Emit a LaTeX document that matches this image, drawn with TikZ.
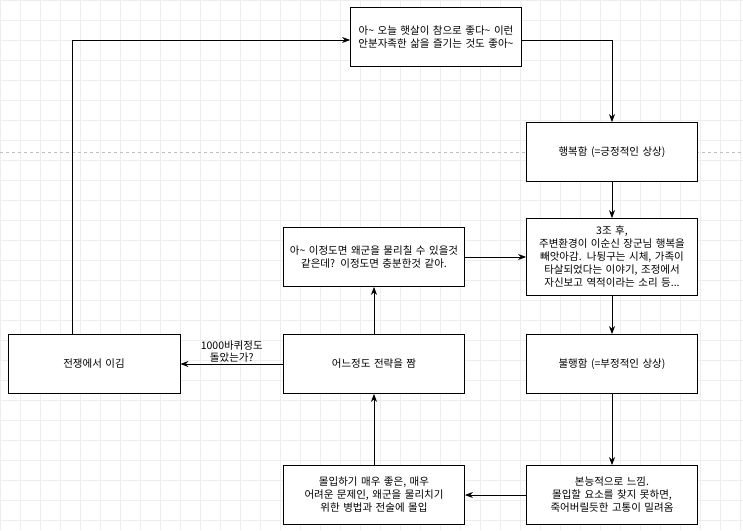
\documentclass[tikz,border=0pt]{standalone}
\usepackage{fontspec}
\setmainfont{Noto Sans CJK KR}
\usetikzlibrary{arrows.meta}
\tikzset{
  box/.style={draw, thick, fill=white, minimum width=171pt, minimum height=59pt, align=center, text width=167pt, font=\fontsize{10.5}{13}\selectfont, inner sep=2pt},
  flow/.style={thick, -{Stealth[length=8pt]}}
}
\begin{document}
\begin{tikzpicture}[x=1pt, y=-1pt]

\useasboundingbox (0,0) rectangle (743,530);
\fill[white] (0,0) rectangle (743,530);
\draw[black!7, step=20pt] (0,0) grid (743,530);
\draw[black!25, dashed] (0,152) -- (743,152);

\node[box] (sun) at (436,37) {아\textasciitilde{} 오늘 햇살이 참으로 좋다\textasciitilde{} 이런 안분자족한 삶을 즐기는 것도 좋아\textasciitilde};
\node[box] (happy) at (612,152) {행복함 (=긍정적인 상상)};
\node[box, minimum height=77pt] (later) at (612,257) {3조 후,\\주변환경이 이순신 장군님 행복을 빼앗아감. 나뒹구는 시체, 가족이 타살되었다는 이야기, 조정에서 자신보고 역적이라는 소리 등...};
\node[box] (unhappy) at (612,364) {불행함 (=부정적인 상상)};
\node[box] (instinct) at (612,495) {본능적으로 느낌.\\몰입할 요소를 찾지 못하면, 죽어버릴듯한 고통이 밀려옴};
\node[box, minimum width=181pt, text width=177pt] (focus) at (374,495) {몰입하기 매우 좋은, 매우 어려운 문제인, 왜군을 물리치기 위한 병법과 전술에 몰입};
\node[box, minimum width=181pt, text width=177pt] (plan) at (374,364) {어느정도 전략을 짬};
\node[box, minimum width=181pt, text width=177pt] (enough) at (374,257) {아\textasciitilde{} 이정도면 왜군을 물리칠 수 있을것 같은데? 이정도면 충분한것 같아.};
\node[box, minimum width=172pt] (win) at (94,364) {전쟁에서 이김};

\coordinate (c1) at (72,40);
\coordinate (c2) at (612,40);

\draw[flow] (win.north -| c1) -- (c1) -- (sun.west |- c1);
\draw[flow] (sun.east |- c2) -- (c2) -- (happy.north);
\draw[flow] (happy) -- (later);
\draw[flow] (later) -- (unhappy);
\draw[flow] (unhappy) -- (instinct);
\draw[flow] (instinct) -- (focus);
\draw[flow] (focus) -- (plan);
\draw[flow] (plan) -- (enough);
\draw[flow] (enough) -- (later.west |- enough);
\draw[flow] (plan) -- node[above, align=center, font=\fontsize{10.5}{12}\selectfont, inner sep=1pt] {1000바퀴정도\\돌았는가?} (win);

\end{tikzpicture}
\end{document}
